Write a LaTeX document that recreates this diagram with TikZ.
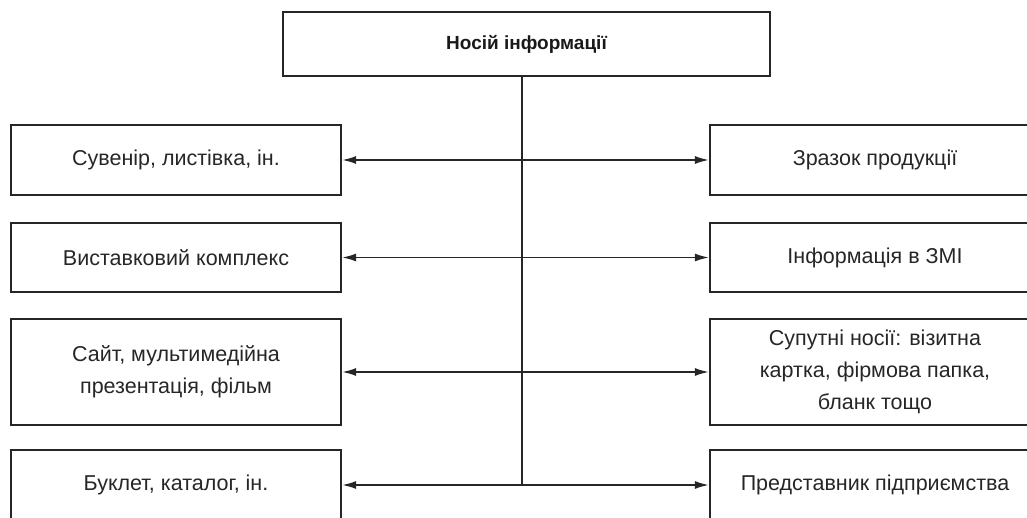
\documentclass[tikz,border=0pt]{standalone}
\usepackage{fontspec}
\setmainfont{Liberation Sans}
\usetikzlibrary{arrows.meta}
\begin{document}
\begin{tikzpicture}[x=1pt,y=-1pt,
  box/.style={draw=black!85, line width=2.2pt, minimum width=330pt, align=center, font=\fontsize{21.5}{32}\selectfont, text=black!85},
  topbox/.style={draw=black!85, line width=2.2pt, minimum width=487pt, minimum height=64pt, font=\bfseries\fontsize{19}{22}\selectfont, text=black!90},
  conn/.style={draw=black!85, line width=1.7pt},
  arr/.style={conn, {Latex[length=14pt,width=8pt]}-{Latex[length=14pt,width=8pt]}}]
\useasboundingbox (0,0) rectangle (1027,518);
\clip (0,0) rectangle (1027,518);
\node[topbox] (top) at (526.5,44) {Носій інформації};
\node[box, minimum height=70pt] (l1) at (176,160) {Сувенір, листівка, ін.};
\node[box, minimum height=69pt] (l2) at (176,257.5) {Виставковий комплекс};
\node[box, minimum height=106pt] (l3) at (176,372) {Сайт, мультимедійна\\презентація, фільм};
\node[box, minimum height=70pt] (l4) at (176,485) {Буклет, каталог, ін.};
\node[box, minimum height=70pt] (r1) at (875,160) {Зразок продукції};
\node[box, minimum height=69pt] (r2) at (875,257.5) {Інформація в ЗМІ};
\node[box, minimum height=106pt] (r3) at (875,372) {Супутні носії: візитна\\картка, фірмова папка,\\бланк тощо};
\node[box, minimum height=70pt] (r4) at (875,485) {Представник підприємства};
\coordinate (j) at (522,485);
\draw[conn] (top.south -| j) -- (j);
\draw[arr] (l1.east) -- (r1.west);
\draw[arr] (l2.east) -- (r2.west);
\draw[arr] (l3.east) -- (r3.west);
\draw[arr] (l4.east) -- (r4.west);
\end{tikzpicture}
\end{document}
